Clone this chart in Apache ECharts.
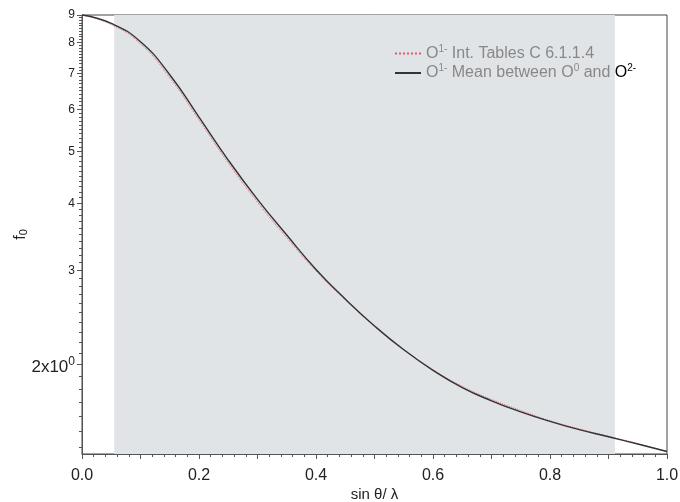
<!DOCTYPE html>
<html>
<head>
<meta charset="utf-8">
<script src="https://cdn.jsdelivr.net/npm/echarts@6/dist/echarts.min.js"></script>
<style>
  html, body { margin: 0; padding: 0; background: #fff; }
  #main { width: 680px; height: 502px; }
</style>
</head>
<body>
<div id="main"></div>
<script>
// sin(theta)/lambda
const sValues = [0.00, 0.05, 0.10, 0.15, 0.20, 0.25, 0.30, 0.35, 0.40, 0.45, 0.50,
                 0.55, 0.60, 0.65, 0.70, 0.75, 0.80, 0.85, 0.90, 0.95, 1.00];
// O1- Int. Tables C 6.1.1.4
const tablesF = [9.00, 8.64, 7.95, 6.87, 5.73, 4.76, 4.02, 3.45, 2.99, 2.64, 2.36,
                 2.135, 1.955, 1.82, 1.72, 1.64, 1.57, 1.515, 1.468, 1.422, 1.375];
// O1- mean between O0 and O2-
const meanF = [9.00, 8.68, 8.02, 6.96, 5.80, 4.82, 4.07, 3.49, 3.01, 2.65, 2.36,
               2.13, 1.95, 1.81, 1.71, 1.63, 1.565, 1.51, 1.465, 1.42, 1.375];
// shaded range
const bandRange = [0.055, 0.911];
// y tick labels
const yMajor = [2, 3, 4, 5, 6, 7, 8, 9];
const yMinor = [];
for (let i = 14; i <= 90; i++) yMinor.push(i / 10);

const nameTables = 'O1- Int. Tables C 6.1.1.4';
const nameMean = 'O1- Mean between O0 and O2-';

const toPairs = (ys) => sValues.map((s, i) => [s, ys[i]]);

const chart = echarts.init(document.getElementById('main'), null, { renderer: 'canvas' });
const font = 'Liberation Sans, Arial, Helvetica, sans-serif';

const option = {
  animation: false,
  textStyle: { fontFamily: font },
  grid: {
    left: 82, right: 13, top: 15, bottom: 48,
    outerBoundsMode: 'none',
    containLabel: false,
    show: true, borderColor: '#444', borderWidth: 1,
    backgroundColor: 'transparent'
  },
  legend: {
    orient: 'vertical',
    left: 389, top: 39,
    itemWidth: 26, itemHeight: 10, itemGap: 2,
    itemStyle: { opacity: 0 },
    data: [nameTables, nameMean],
    textStyle: {
      fontFamily: font, fontSize: 16, color: '#888',
      rich: {
        sup: { fontSize: 10, color: '#888', padding: [0, 0, 9, 0] },
        big: { fontSize: 16, color: '#000' },
        supb: { fontSize: 10, color: '#000', padding: [0, 0, 9, 0] }
      }
    },
    formatter: function (n) {
      if (n === nameTables) return 'O{sup|1-} Int. Tables C 6.1.1.4';
      return 'O{sup|1-} Mean between O{sup|0} and {big|O}{supb|2-}';
    }
  },
  xAxis: {
    type: 'value', min: 0, max: 1, interval: 0.1,
    name: 'sin θ/ λ', nameLocation: 'middle', nameGap: 33,
    nameMoveOverlap: false,
    nameTextStyle: { fontSize: 15, color: '#222' },
    axisLine: { lineStyle: { color: '#555', width: 1 } },
    axisTick: { length: 5, lineStyle: { color: '#555' } },
    minorTick: { show: true, splitNumber: 5, length: 3, lineStyle: { color: '#555' } },
    splitLine: { show: false },
    axisLabel: {
      fontSize: 16, color: '#222', margin: 14,
      formatter: v => (Math.round(v * 10) % 2 === 0 ? v.toFixed(1) : '')
    }
  },
  yAxis: [{
    type: 'log', min: 1.36, max: 9,
    name: '{f|f}{sub|0}', nameLocation: 'middle', nameGap: 53,
    nameMoveOverlap: false,
    nameTextStyle: {
      rich: {
        f: { fontSize: 16, color: '#222' },
        sub: { fontSize: 11, color: '#222', padding: [6, 0, 0, 0] }
      }
    },
    axisLine: { show: true, lineStyle: { color: '#555', width: 1 } },
    axisTick: { show: true, length: 3, customValues: yMinor, lineStyle: { color: '#555' } },
    splitLine: { show: false },
    minorTick: { show: false },
    axisLabel: {
      customValues: yMajor, margin: 7, color: '#222', fontSize: 12,
      formatter: v => (Math.abs(v - 2) < 1e-6 ? '{b|2x10}{s|0}' : String(Math.round(v))),
      rich: {
        b: { fontSize: 17, lineHeight: 17, color: '#222', padding: [6, 0, 0, 0] },
        s: { fontSize: 12, lineHeight: 12, color: '#222', verticalAlign: 'top' }
      }
    }
  }, {
    type: 'log', min: 1.36, max: 9, position: 'left',
    axisLine: { show: false },
    axisTick: { show: true, length: 5, customValues: yMajor, lineStyle: { color: '#555' } },
    axisLabel: { show: false },
    splitLine: { show: false }
  }],
  series: [{
    name: nameMean,
    type: 'line',
    smooth: true,
    symbol: 'none',
    data: toPairs(meanF),
    lineStyle: { color: '#333', width: 1.4 },
    itemStyle: { color: '#555' },
    z: 3,
    markArea: {
      silent: true,
      itemStyle: { color: '#e1e4e7' },
      data: [[{ xAxis: bandRange[0] }, { xAxis: bandRange[1] }]]
    }
  }, {
    name: nameTables,
    type: 'line',
    smooth: true,
    symbol: 'none',
    data: toPairs(tablesF),
    lineStyle: { color: '#e25c6a', width: 1, type: 'dotted' },
    itemStyle: { color: '#e25c6a' },
    z: 2
  }]
};

chart.setOption(option);
</script>
</body>
</html>
